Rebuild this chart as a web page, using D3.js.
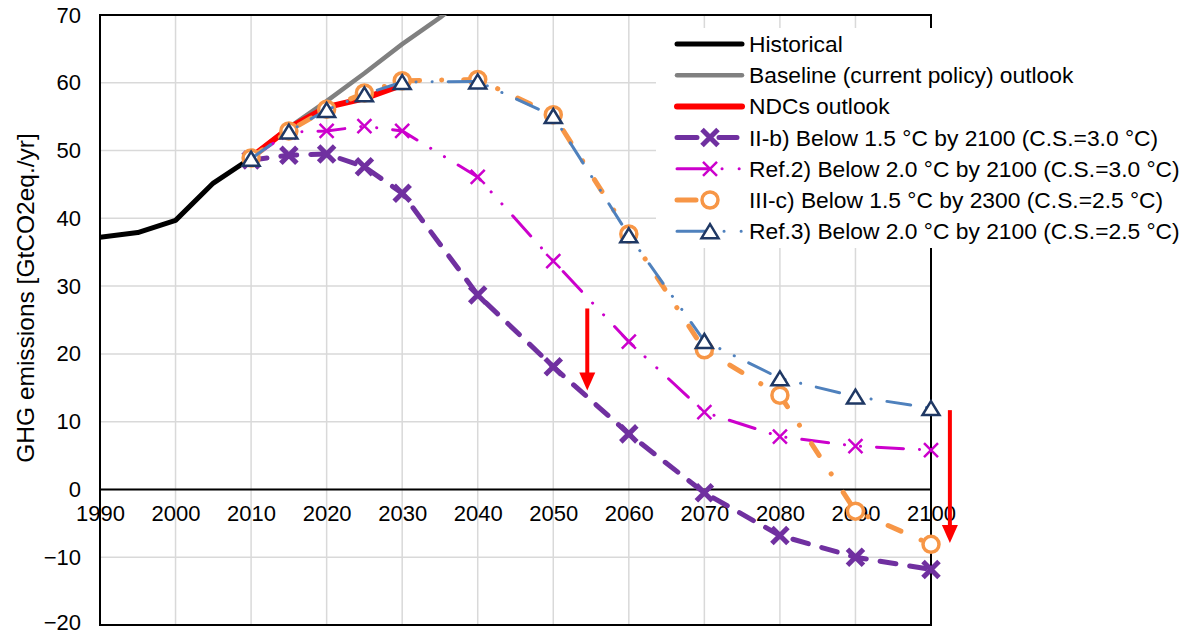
<!DOCTYPE html>
<html>
<head>
<meta charset="utf-8">
<script src="https://cdn.jsdelivr.net/npm/d3@7"></script>
<style>
  body { margin: 0; background: #fff; }
  text { font-family: "Liberation Sans", Arial, sans-serif; fill: #000; }
</style>
</head>
<body>
<div id="chart"></div>
<script>
// ---- data ----
const histYears = [1990, 1995, 2000, 2005, 2010];
const histValues = [37.2, 37.9, 39.7, 45.2, 48.9];

const baseYears = [2010, 2015, 2020, 2025, 2030, 2035, 2040];
const baseValues = [49, 53.4, 57.3, 61.4, 65.7, 69.6, 74];

const ndcYears = [2010, 2015, 2020, 2025, 2030];
const ndcValues = [49, 53.3, 56.4, 57.7, 59.7];

const scenYears = [2010, 2015, 2020, 2025, 2030, 2040, 2050, 2060, 2070, 2080, 2090, 2100];
const iibValues  = [48.6, 49.3, 49.5, 47.6, 43.7, 28.7, 18.1, 8.2, -0.5, -6.8, -10, -11.8];
const ref2Values = [48.8, 52.7, 52.9, 53.6, 52.9, 46.1, 33.7, 21.8, 11.4, 7.8, 6.4, 5.8];
const iiicValues = [48.9, 52.9, 56.1, 58.5, 60.3, 60.5, 55.3, 37.7, 20.6, 13.9, -3.2, -8.1];
const ref3Values = [48.8, 52.8, 56.0, 58.3, 60.1, 60.2, 55.1, 37.5, 21.9, 16.4, 13.7, 12.0];

const seriesNames = [
  "Historical",
  "Baseline (current policy) outlook",
  "NDCs outlook",
  "II-b) Below 1.5 °C by 2100 (C.S.=3.0 °C)",
  "Ref.2) Below 2.0 °C by 2100 (C.S.=3.0 °C)",
  "III-c) Below 1.5 °C by 2300 (C.S.=2.5 °C)",
  "Ref.3) Below 2.0 °C by 2100 (C.S.=2.5 °C)"
];

const xTicks = d3.range(1990, 2101, 10);
const yTicks = d3.range(-20, 71, 10);

// red annotation arrows (year, from value, to value)
const arrowYears = [2054.5, 2102.5];
const arrowFrom = [26.7, 11.7];
const arrowTo = [14.6, -7.9];

// ---- layout ----
const W = 1182, H = 632;
const plot = { left: 100, right: 931, top: 15, bottom: 625 };

const svg = d3.select("#chart").append("svg")
  .attr("width", W)
  .attr("height", H);

const x = d3.scaleLinear().domain([1990, 2100]).range([plot.left, plot.right]);
const y = d3.scaleLinear().domain([-20, 70]).range([plot.bottom, plot.top]);

svg.append("defs").append("clipPath").attr("id", "clip")
  .append("rect")
  .attr("x", plot.left).attr("y", plot.top)
  .attr("width", plot.right - plot.left).attr("height", plot.bottom - plot.top);

// gridlines
const grid = svg.append("g");
grid.selectAll(".gx").data(xTicks).enter().append("line")
  .attr("x1", d => x(d)).attr("x2", d => x(d))
  .attr("y1", plot.top).attr("y2", plot.bottom)
  .attr("stroke", "#d9d9d9").attr("stroke-width", 1.5);
grid.selectAll(".gy").data(yTicks).enter().append("line")
  .attr("x1", plot.left).attr("x2", plot.right)
  .attr("y1", d => y(d)).attr("y2", d => y(d))
  .attr("stroke", "#d9d9d9").attr("stroke-width", 1.5);

// frame + zero line
svg.append("rect")
  .attr("x", plot.left).attr("y", plot.top)
  .attr("width", plot.right - plot.left).attr("height", plot.bottom - plot.top)
  .attr("fill", "none").attr("stroke", "#000").attr("stroke-width", 2);
svg.append("line")
  .attr("x1", plot.left).attr("x2", plot.right)
  .attr("y1", y(0)).attr("y2", y(0))
  .attr("stroke", "#000").attr("stroke-width", 2);

// axes (labels only, Excel style)
const yAxis = svg.append("g")
  .attr("transform", `translate(${plot.left},0)`)
  .call(d3.axisLeft(y).tickValues(yTicks).tickSize(0).tickPadding(19));
const xAxis = svg.append("g")
  .attr("transform", `translate(0,${y(0)})`)
  .call(d3.axisBottom(x).tickValues(xTicks).tickSize(0).tickPadding(16).tickFormat(d3.format("d")));
[yAxis, xAxis].forEach(a => {
  a.select(".domain").remove();
  a.selectAll("text").attr("font-size", 22).attr("font-family", "Liberation Sans, Arial, sans-serif").attr("fill", "#000");
});
yAxis.selectAll("text").filter(d => d === -20).attr("dy", "0.2em");

svg.append("text")
  .attr("transform", `translate(34,298) rotate(-90)`)
  .attr("text-anchor", "middle")
  .attr("font-size", 24.5)
  .text("GHG emissions [GtCO2eq./yr]");

// ---- series ----
const series = [
  { years: histYears, values: histValues, color: "#000000", width: 5, dash: null, legendDash: null, marker: null },
  { years: baseYears, values: baseValues, color: "#808080", width: 4.5, dash: null, legendDash: null, marker: null },
  { years: ndcYears, values: ndcValues, color: "#ff0000", width: 6, dash: null, legendDash: null, marker: null },
  { years: scenYears, values: iibValues, color: "#7030a0", width: 5, dash: "16,14", legendDash: "20,22,18,40", marker: "xBold" },
  { years: scenYears, values: ref2Values, color: "#cc00cc", width: 3, dash: "27,16,0.1,16,0.1,16", legendDash: "32,13,0.1,17,0.1,40", marker: "xThin" },
  { years: scenYears, values: iiicValues, color: "#f79646", width: 5, dash: "14,22,0.1,22", legendDash: "19,46,0.1,30", marker: "circle" },
  { years: scenYears, values: ref3Values, color: "#4f81bd", width: 3, dash: "24,16,0.1,16,0.1,16", legendDash: "32,15,0.1,17,0.1,40", marker: "triangle" }
];
series.forEach((s, i) => s.name = seriesNames[i]);

const line = d3.line().x(d => x(d[0])).y(d => y(d[1]));

function drawMarker(g, type, cx, cy, color) {
  if (type === "xBold" || type === "xThin") {
    const r = type === "xBold" ? 8 : 7;
    g.append("path")
      .attr("d", `M${cx - r},${cy - r}L${cx + r},${cy + r}M${cx - r},${cy + r}L${cx + r},${cy - r}`)
      .attr("stroke", color).attr("stroke-width", type === "xBold" ? 5 : 2.5).attr("fill", "none");
  } else if (type === "circle") {
    g.append("circle").attr("cx", cx).attr("cy", cy).attr("r", 8)
      .attr("fill", "#fff").attr("stroke", color).attr("stroke-width", 3.5);
  } else if (type === "triangle") {
    const w = 8.5, h = 7;
    g.append("path")
      .attr("d", `M${cx},${cy - h}L${cx + w},${cy + h}L${cx - w},${cy + h}Z`)
      .attr("fill", "#fff").attr("stroke", "#1f3864").attr("stroke-width", 2.5)
      .attr("stroke-linejoin", "miter");
  }
}

const plotG = svg.append("g").attr("clip-path", "url(#clip)");
series.forEach(s => {
  const pts = s.years.map((yr, i) => [yr, s.values[i]]);
  const g = svg.append("g");
  (s.marker ? g : plotG).append("path")
    .datum(pts)
    .attr("d", line)
    .attr("fill", "none")
    .attr("stroke", s.color)
    .attr("stroke-width", s.width)
    .attr("stroke-linecap", "round")
    .attr("stroke-linejoin", "round")
    .attr("stroke-dasharray", s.dash);
  if (s.marker) pts.forEach(p => drawMarker(g, s.marker, x(p[0]), y(p[1]), s.color));
});

// red arrows
arrowYears.forEach((yr, i) => {
  const ax = x(yr), y0 = y(arrowFrom[i]), y1 = y(arrowTo[i]);
  svg.append("line")
    .attr("x1", ax).attr("x2", ax).attr("y1", y0).attr("y2", y1 - 16)
    .attr("stroke", "#ff0000").attr("stroke-width", 4);
  svg.append("path")
    .attr("d", `M${ax - 8},${y1 - 18}L${ax + 8},${y1 - 18}L${ax},${y1}Z`)
    .attr("fill", "#ff0000");
});

// ---- legend ----
const legend = svg.append("g");
legend.append("rect")
  .attr("x", 656).attr("y", 28).attr("width", 526).attr("height", 220)
  .attr("fill", "#fff");
series.forEach((s, i) => {
  const ly = 44 + i * 31.2;
  const g = legend.append("g");
  g.append("line")
    .attr("x1", 677).attr("x2", 742).attr("y1", ly).attr("y2", ly)
    .attr("stroke", s.color).attr("stroke-width", s.width)
    .attr("stroke-linecap", "round")
    .attr("stroke-dasharray", s.legendDash);
  if (s.marker) drawMarker(g, s.marker, 710, ly, s.color);
  g.append("text")
    .attr("x", 749).attr("y", ly).attr("dy", "0.35em")
    .attr("font-size", 22.8)
    .text(s.name);
});
</script>
</body>
</html>
